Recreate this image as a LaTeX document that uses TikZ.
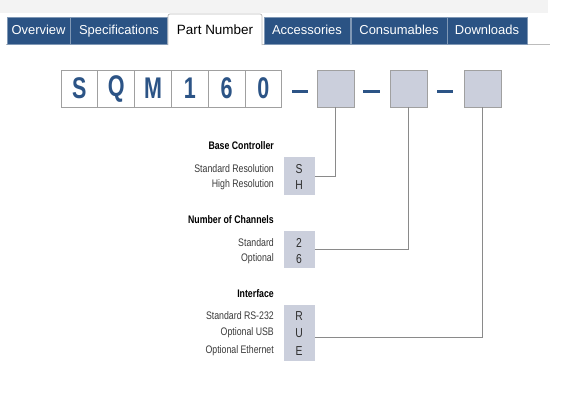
\documentclass[tikz,border=0pt]{standalone}
\usepackage{fontspec}
\setmainfont{Liberation Sans}
\newfontfamily\condfont[FakeStretch=0.8]{Liberation Sans}
\newfontfamily\bigfont[FakeStretch=0.72]{Liberation Sans}
\definecolor{tabblue}{HTML}{2B5384}
\definecolor{partblue}{HTML}{2C5486}
\definecolor{topgray}{HTML}{F3F3F3}
\definecolor{boxgray}{HTML}{CBCFDC}
\definecolor{edgegray}{HTML}{A0A0A0}
\definecolor{linegray}{HTML}{8A8A8A}
\definecolor{labelgray}{HTML}{3A3A3A}
\tikzset{
  tab/.style={fill=tabblue, draw=tabblue!60!white, line width=0.6bp, text=white,
    minimum height=27bp, inner sep=0pt, text height=9.5bp, text depth=2.5bp,
    font=\fontsize{13}{15}\selectfont},
  letterbox/.style={draw=edgegray, line width=0.8bp, fill=white, minimum width=36.8bp,
    minimum height=37bp, inner sep=0pt, text=partblue, font=\bigfont\bfseries\fontsize{30}{32}\selectfont},
  slotbox/.style={draw=edgegray, line width=0.8bp, fill=boxgray, minimum width=37bp,
    minimum height=37bp, inner sep=0pt},
  optbox/.style={fill=boxgray, minimum width=31bp, inner sep=0pt},
  optletter/.style={text=labelgray!80!black, inner sep=0pt, text height=9bp, text depth=0pt,
    font=\condfont\fontsize{13}{15}\selectfont},
  lbl/.style={anchor=east, text=labelgray, inner sep=0pt, font=\condfont\fontsize{11}{13}\selectfont},
  hdr/.style={anchor=east, text=black, inner sep=0pt, font=\condfont\bfseries\fontsize{11}{13}\selectfont},
  dashbar/.style={draw=partblue, line width=3bp},
  connector/.style={draw=linegray, line width=0.8bp}
}
\begin{document}
\begin{tikzpicture}[x=1bp,y=-1bp]
\useasboundingbox (0,0) rectangle (582,400);
\fill[white] (0,0) rectangle (582,400);
\fill[topgray] (0,0) rectangle (548,13);
% tab bar
\draw[edgegray!70!white, line width=0.7bp] (6,44.5) -- (550,44.5);
\node[tab, minimum width=63bp] (t1) at (38.5,30.5) {Overview};
\node[tab, minimum width=97bp] (t2) at (119,30.5) {Specifications};
\draw[edgegray!70!white, line width=0.7bp, fill=white, rounded corners=2bp]
  (168,45) -- (168,14) -- (262,14) -- (262,45);
\node[inner sep=0pt, text height=9.5bp, text depth=2.5bp, font=\fontsize{13.5}{15}\selectfont] (t3) at (215,30.5) {Part Number};
\node[tab, minimum width=86bp] (t4) at (307,30.5) {Accessories};
\node[tab, minimum width=96bp] (t5) at (399,30.5) {Consumables};
\node[tab, minimum width=80bp] (t6) at (487,30.5) {Downloads};
% part number
\node[letterbox] (p1) at (79.4,88.5) {S};
\node[letterbox] (p2) at (116.2,88.5) {Q};
\node[letterbox] (p3) at (153,88.5) {M};
\node[letterbox] (p4) at (189.8,88.5) {1};
\node[letterbox] (p5) at (226.6,88.5) {6};
\node[letterbox] (p6) at (263.4,88.5) {0};
\coordinate (d1a) at (292,91); \coordinate (d1b) at (308,91);
\coordinate (d2a) at (363,91); \coordinate (d2b) at (380,91);
\coordinate (d3a) at (437,91); \coordinate (d3b) at (453,91);
\draw[dashbar] (d1a) -- (d1b);
\draw[dashbar] (d2a) -- (d2b);
\draw[dashbar] (d3a) -- (d3b);
\node[slotbox] (g1) at (335.5,88.5) {};
\node[slotbox] (g2) at (408.5,88.5) {};
\node[slotbox] (g3) at (482.5,88.5) {};
% base controller
\node[hdr] (h1) at (274,146) {Base Controller};
\node[optbox, minimum height=38bp] (b1) at (299,176) {};
\node[lbl] (l11) at (274,169) {Standard Resolution};
\node[lbl] (l12) at (274,185) {High Resolution};
\node[optletter] (o11) at (299,169) {S};
\node[optletter] (o12) at (299,185) {H};
% channels
\node[hdr] (h2) at (274,220) {Number of Channels};
\node[optbox, minimum height=37bp] (b2) at (299,249.5) {};
\node[lbl] (l21) at (274,243) {Standard};
\node[lbl] (l22) at (274,259) {Optional};
\node[optletter] (o21) at (299,243) {2};
\node[optletter] (o22) at (299,259) {6};
% interface
\node[hdr] (h3) at (274,294) {Interface};
\node[optbox, minimum height=56bp] (b3) at (299,333) {};
\node[lbl] (l31) at (274,316) {Standard RS-232};
\node[lbl] (l32) at (274,333) {Optional USB};
\node[lbl] (l33) at (274,351) {Optional Ethernet};
\node[optletter] (o31) at (299,316) {R};
\node[optletter] (o32) at (299,333) {U};
\node[optletter] (o33) at (299,351) {E};
% connectors
\draw[connector] (b1.east) -| (g1.south);
\draw[connector] (b2.east) -| (g2.south);
\draw[connector] ([yshift=-4bp]b3.east) -| (g3.south);
\end{tikzpicture}
\end{document}
